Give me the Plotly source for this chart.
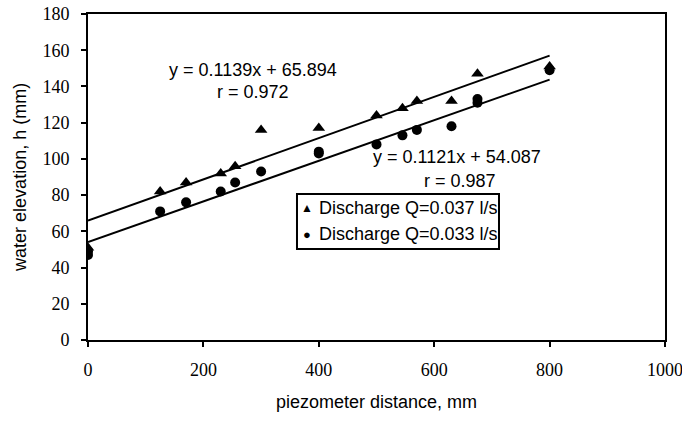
import plotly.graph_objects as go

# Discharge Q=0.037 l/s (triangles)
x_q037 = [0, 125, 170, 230, 255, 300, 400, 500, 545, 570, 630, 675, 800]
y_q037 = [51, 82, 87, 92, 96, 116, 117, 124, 128, 132, 132, 147, 151]

# Discharge Q=0.033 l/s (circles)
x_q033 = [0, 0, 125, 170, 230, 255, 300, 400, 400, 500, 545, 570, 630, 675, 675, 800]
y_q033 = [47, 49, 71, 76, 82, 87, 93, 103, 104, 108, 113, 116, 118, 131, 133, 149]

# Linear fits shown on chart: slope, intercept, r
fit_037 = (0.1139, 65.894, 0.972)
fit_033 = (0.1121, 54.087, 0.987)
fit_x = [0, 800]

x_ticks = [0, 200, 400, 600, 800, 1000]
y_ticks = [0, 20, 40, 60, 80, 100, 120, 140, 160, 180]

legend_labels = ["Discharge Q=0.037 l/s", "Discharge Q=0.033 l/s"]

SANS = "Liberation Sans, Arial, sans-serif"
SERIF = "Liberation Serif, Times New Roman, serif"

fig = go.Figure()

for (m, b, r) in (fit_037, fit_033):
    fig.add_trace(go.Scatter(
        x=fit_x, y=[m * xx + b for xx in fit_x], mode="lines",
        line=dict(color="black", width=2), showlegend=False, hoverinfo="skip"))

fig.add_trace(go.Scatter(
    x=x_q037, y=y_q037, mode="markers", name=legend_labels[0], showlegend=False,
    marker=dict(symbol="triangle-up", size=11, color="black")))
fig.add_trace(go.Scatter(
    x=x_q033, y=y_q033, mode="markers", name=legend_labels[1], showlegend=False,
    marker=dict(symbol="circle", size=10, color="black")))

axis_common = dict(
    showgrid=False, zeroline=False, showline=True, linecolor="black", linewidth=2,
    mirror=True, ticks="outside", ticklen=5, tickwidth=2, tickcolor="black",
    tickfont=dict(family=SERIF, size=18, color="black"),
    ticklabeloverflow="allow", automargin=False,
)
fig.update_xaxes(range=[0, 1000], tickvals=x_ticks, ticklabelstandoff=7, **axis_common)
fig.update_yaxes(range=[0, 180], tickvals=y_ticks, ticklabelstandoff=8, **axis_common)

ann_font = dict(family=SANS, size=18, color="black")
annotations = [
    dict(x=286, y=149, xref="x", yref="y", text=f"y = {fit_037[0]}x + {fit_037[1]}",
         showarrow=False, font=ann_font),
    dict(x=286, y=137, xref="x", yref="y", text=f"r = {fit_037[2]}",
         showarrow=False, font=ann_font),
    dict(x=640, y=101, xref="x", yref="y", text=f"y = {fit_033[0]}x + {fit_033[1]}",
         showarrow=False, font=ann_font),
    dict(x=645, y=88, xref="x", yref="y", text=f"r = {fit_033[2]}",
         showarrow=False, font=ann_font),
    dict(x=0.5, y=-0.19, xref="paper", yref="paper", text="piezometer distance, mm",
         showarrow=False, font=ann_font, yanchor="middle"),
    dict(x=-0.118, y=0.5, xref="paper", yref="paper", text="water elevation, h (mm)",
         showarrow=False, textangle=-90, font=ann_font, xanchor="center"),
    # legend: markers + labels
    dict(x=0.3795, y=0.405, xref="paper", yref="paper", text="▲", showarrow=False,
         font=dict(family=SANS, size=12, color="black"), xanchor="center", yanchor="middle"),
    dict(x=0.3795, y=0.325, xref="paper", yref="paper", text="●", showarrow=False,
         font=dict(family=SANS, size=13, color="black"), xanchor="center", yanchor="middle"),
    dict(x=0.3975, y=0.405, xref="paper", yref="paper", text=legend_labels[0],
         showarrow=False, font=ann_font, xanchor="left", yanchor="middle"),
    dict(x=0.3975, y=0.325, xref="paper", yref="paper", text=legend_labels[1],
         showarrow=False, font=ann_font, xanchor="left", yanchor="middle"),
]

fig.update_layout(
    width=682, height=423,
    margin=dict(l=88, r=17, t=14, b=83),
    paper_bgcolor="white", plot_bgcolor="white",
    annotations=annotations,
    shapes=[dict(type="rect", xref="paper", yref="paper",
                 x0=0.3622, x1=0.7123, y0=0.279, y1=0.448,
                 line=dict(color="black", width=2), fillcolor="white", layer="below")],
)

fig.write_html("out.html")
